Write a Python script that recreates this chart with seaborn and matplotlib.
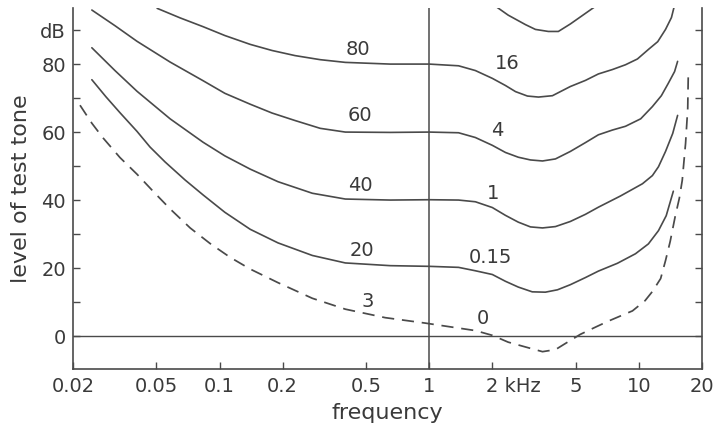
import matplotlib
matplotlib.use("Agg")
import matplotlib.pyplot as plt
import matplotlib.transforms as mtransforms
from matplotlib.ticker import NullLocator
import pandas as pd
import seaborn as sns

# ---------------- data (frequency in kHz, level in dB) ----------------
freq_100 = [2.02, 2.38, 2.88, 3.21, 3.70, 4.13, 4.71, 5.38, 6.41]
level_100 = [97.5, 94.4, 91.6, 90.2, 89.6, 89.6, 91.8, 94.3, 97.6]

freq_80 = [0.0504, 0.0648, 0.0835, 0.106, 0.140, 0.178, 0.229, 0.302, 0.398, 0.652,
           1.0, 1.38, 1.66, 2.0, 2.31, 2.58, 2.94, 3.32, 3.87, 4.71,
           5.56, 6.41, 7.48, 8.63, 9.84, 11.1, 12.3, 13.4, 14.3, 14.9]
level_80 = [96.4, 93.6, 91.0, 88.4, 85.8, 84.0, 82.5, 81.3, 80.5, 80.0,
            80.0, 79.5, 78.1, 75.8, 73.7, 71.9, 70.6, 70.3, 70.7, 73.4,
            75.2, 77.1, 78.4, 79.8, 81.5, 84.3, 86.6, 90.2, 93.7, 98.1]

freq_60 = [0.0246, 0.0317, 0.0404, 0.0581, 0.0835, 0.106, 0.140, 0.178, 0.229, 0.302,
           0.398, 0.652, 1.0, 1.38, 1.66, 2.0, 2.31, 2.66, 3.04, 3.47,
           4.00, 4.71, 5.56, 6.41, 7.48, 8.63, 10.2, 11.6, 12.8, 13.8,
           14.8, 15.3]
level_60 = [95.9, 91.3, 86.7, 80.6, 75.1, 71.4, 68.2, 65.6, 63.4, 61.1,
            60.0, 59.9, 60.0, 59.8, 58.4, 56.1, 54.0, 52.6, 51.8, 51.5,
            52.1, 54.3, 56.9, 59.2, 60.6, 61.7, 63.9, 67.5, 70.7, 74.3,
            77.8, 80.8]

freq_40 = [0.0246, 0.0317, 0.0404, 0.0581, 0.0835, 0.106, 0.140, 0.190, 0.277, 0.398,
           0.652, 1.0, 1.38, 1.66, 2.0, 2.31, 2.66, 3.04, 3.47, 4.00,
           4.71, 5.56, 6.41, 8.17, 10.4, 11.6, 12.4, 13.4, 14.5, 15.3]
level_40 = [84.8, 78.1, 72.0, 63.9, 57.0, 53.0, 49.1, 45.4, 42.0, 40.3,
            40.0, 40.1, 40.0, 39.5, 37.8, 35.5, 33.5, 32.1, 31.8, 32.2,
            33.7, 35.8, 37.9, 41.2, 44.8, 47.2, 49.8, 54.3, 59.6, 64.9]

freq_20 = [0.0246, 0.0287, 0.0335, 0.0404, 0.0466, 0.0550, 0.0685, 0.0835, 0.106, 0.140,
           0.190, 0.277, 0.398, 0.652, 1.0, 1.38, 1.66, 2.0, 2.31, 2.66,
           3.10, 3.58, 4.09, 4.71, 5.56, 6.41, 7.90, 9.63, 11.1, 12.4,
           13.5, 14.6]
level_20 = [75.4, 70.4, 65.7, 60.2, 55.6, 51.2, 45.9, 41.5, 36.4, 31.4,
            27.4, 23.7, 21.5, 20.7, 20.5, 20.2, 19.2, 18.1, 16.1, 14.4,
            13.0, 12.9, 13.6, 15.1, 17.2, 19.1, 21.4, 24.2, 27.1, 31.0,
            35.4, 42.6]

freq_thr = [0.0216, 0.0246, 0.0278, 0.0335, 0.0404, 0.0492, 0.0581, 0.0724, 0.0902, 0.112,
            0.140, 0.190, 0.277, 0.398, 0.617, 0.958, 1.26, 1.66, 2.0, 2.38,
            2.87, 3.47, 4.00, 4.46, 5.26, 6.20, 7.16, 9.32, 10.7, 11.6,
            12.7, 13.4, 14.1, 14.9, 15.6, 16.1, 16.7, 17.1, 17.2]
level_thr = [67.9, 62.6, 58.3, 52.5, 47.6, 42.0, 37.4, 31.8, 27.2, 23.2,
             19.7, 15.7, 11.1, 7.9, 5.4, 3.8, 2.7, 1.6, 0.2, -1.8,
             -3.2, -4.6, -4.0, -2.2, 0.5, 2.6, 4.4, 7.4, 10.4, 13.1,
             16.9, 22.2, 27.8, 35.2, 40.6, 45.8, 56.7, 67.0, 76.7]

curve_labels = ["80", "60", "40", "20", "3", "16", "4", "1", "0.15", "0"]
label_freq = [0.458, 0.469, 0.469, 0.479, 0.506, 2.36, 2.11, 2.02, 1.96, 1.81]
label_level = [84.4, 65.0, 44.4, 25.3, 10.2, 80.2, 60.4, 41.9, 23.1, 5.1]

xtick_vals = [0.02, 0.05, 0.1, 0.2, 0.5, 1, 2, 5, 10, 20]
xtick_labels = ["0.02", "0.05", "0.1", "0.2", "0.5", "1", "2 kHz", "5", "10", "20"]
ytick_vals = [0, 10, 20, 30, 40, 50, 60, 70, 80, 90]
ytick_labels = ["0", "", "20", "", "40", "", "60", "", "80", "dB"]

# ---------------- style ----------------
sns.set_style("ticks")
plt.rcParams["font.family"] = ["DejaVu Sans"]
LINE = "#4a4a4a"
TEXT = "#3a3a3a"

fig = plt.figure(figsize=(7.15, 4.33), dpi=100)
fig.patch.set_facecolor("white")
ax = fig.add_axes([73 / 715, 64 / 433, 629 / 715, 361 / 433])
ax.set_facecolor("white")

solid = [(freq_100, level_100), (freq_80, level_80), (freq_60, level_60),
         (freq_40, level_40), (freq_20, level_20)]
for f, l in solid:
    df = pd.DataFrame({"f": f, "l": l})
    sns.lineplot(data=df, x="f", y="l", ax=ax, color=LINE, lw=1.2,
                 estimator=None, sort=False)
    ax.lines[-1].set_solid_joinstyle("round")

df_thr = pd.DataFrame({"f": freq_thr, "l": level_thr})
sns.lineplot(data=df_thr, x="f", y="l", ax=ax, color=LINE, lw=1.25,
             estimator=None, sort=False)
ax.lines[-1].set_linestyle((0, (7.0, 4.5)))

ax.axhline(0, color=LINE, lw=1.0)
ax.axvline(1, color=LINE, lw=1.1)

ax.set_xscale("log")
ax.set_xlim(0.02, 20)
ax.set_ylim(-9.7, 96.5)

ax.set_xticks(xtick_vals)
ax.set_xticklabels(xtick_labels)
ax.xaxis.set_minor_locator(NullLocator())
ax.set_yticks(ytick_vals)
ax.set_yticklabels(ytick_labels)
ax.yaxis.set_minor_locator(NullLocator())

ax.tick_params(axis="x", direction="in", length=5, width=1.0, color=LINE,
               labelsize=14, labelcolor=TEXT, pad=6)
ax.tick_params(axis="y", direction="in", length=5, width=1.0, color=LINE,
               labelsize=14, labelcolor=TEXT, pad=5, right=True, labelright=False)

for lab in ax.get_xticklabels():
    if lab.get_text() == "2 kHz":
        lab.set_horizontalalignment("left")
        lab.set_transform(lab.get_transform() +
                          mtransforms.ScaledTranslation(-0.065, 0, fig.dpi_scale_trans))

for s in ["left", "bottom", "right"]:
    ax.spines[s].set_color(LINE)
    ax.spines[s].set_linewidth(1.2)
ax.spines["top"].set_visible(False)

ax.set_xlabel("frequency", fontsize=16, color=TEXT, labelpad=5)
ax.set_ylabel("level of test tone", fontsize=16, color=TEXT, labelpad=7)

for t, fx, ly in zip(curve_labels, label_freq, label_level):
    ax.text(fx, ly, t, ha="center", va="center", fontsize=14, color=TEXT)

fig.savefig("out.png", dpi=100, facecolor="white")
